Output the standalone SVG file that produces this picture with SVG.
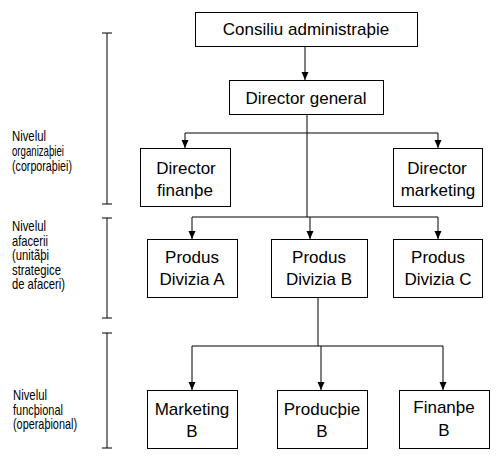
<svg xmlns="http://www.w3.org/2000/svg" width="500" height="463" viewBox="0 0 500 463">
<style>
.box{fill:#fff;stroke:#000;stroke-width:1}
.t{font-family:"Liberation Sans",Arial,sans-serif;font-size:17px;fill:#000;text-anchor:middle}
.l{font-family:"Liberation Sans",Arial,sans-serif;font-size:14.5px;fill:#000}
.c{fill:none;stroke:#000;stroke-width:1}
</style>
<defs>
<marker id="ah" viewBox="0 0 8 8" refX="8" refY="4" markerWidth="8" markerHeight="8" markerUnits="userSpaceOnUse" orient="auto">
<path d="M0,0.5 L8,4 L0,7.5 z" fill="#000"/>
</marker>
</defs>
<rect width="500" height="463" fill="#fff"/>
<g id="axis" class="c">
<path d="M107,33 V204 M102,33 H112 M102,204 H112"/>
<path d="M107,218 V318 M102,218 H112 M102,318 H112"/>
<path d="M107,333 V448 M102,333 H112 M102,448 H112"/>
</g>
<g id="levels">
<text class="l" x="12" y="141" textLength="34" lengthAdjust="spacingAndGlyphs">Nivelul</text>
<text class="l" x="12" y="156" textLength="52" lengthAdjust="spacingAndGlyphs">organizaþiei</text>
<text class="l" x="12" y="170.5" textLength="60" lengthAdjust="spacingAndGlyphs">(corporaþiei)</text>
<text class="l" x="12" y="231" textLength="34" lengthAdjust="spacingAndGlyphs">Nivelul</text>
<text class="l" x="12" y="245.5" textLength="36" lengthAdjust="spacingAndGlyphs">afacerii</text>
<text class="l" x="12" y="260" textLength="37" lengthAdjust="spacingAndGlyphs">(unitãþi</text>
<text class="l" x="12" y="274.5" textLength="49" lengthAdjust="spacingAndGlyphs">strategice</text>
<text class="l" x="12" y="289" textLength="53" lengthAdjust="spacingAndGlyphs">de afaceri)</text>
<text class="l" x="13" y="399.5" textLength="34" lengthAdjust="spacingAndGlyphs">Nivelul</text>
<text class="l" x="13" y="414.5" textLength="50" lengthAdjust="spacingAndGlyphs">funcþional</text>
<text class="l" x="13" y="429" textLength="64" lengthAdjust="spacingAndGlyphs">(operaþional)</text>
</g>
<g id="connectors" class="c">
<path d="M305,46 V80" marker-end="url(#ah)"/>
<path d="M307,114 V217"/>
<path d="M185,133 H438"/>
<path d="M185,133 V148" marker-end="url(#ah)"/>
<path d="M438,133 V148" marker-end="url(#ah)"/>
<path d="M192,217 H438"/>
<path d="M192,217 V239" marker-end="url(#ah)"/>
<path d="M310,217 V239" marker-end="url(#ah)"/>
<path d="M438,217 V239" marker-end="url(#ah)"/>
<path d="M318,297 V346"/>
<path d="M192,346 H443"/>
<path d="M192,346 V390" marker-end="url(#ah)"/>
<path d="M321,346 V390" marker-end="url(#ah)"/>
<path d="M443,346 V390" marker-end="url(#ah)"/>
</g>
<g id="consiliu">
<rect class="box" x="195.5" y="12.5" width="222" height="34"/>
<text class="t" x="306" y="35">Consiliu administraþie</text>
</g>
<g id="director-general">
<rect class="box" x="229.5" y="80.5" width="154" height="34"/>
<text class="t" x="306" y="103.5">Director general</text>
</g>
<g id="director-finante">
<rect class="box" x="140.5" y="148.5" width="90" height="58"/>
<text class="t" x="186" y="174">Director</text>
<text class="t" x="185" y="196">finanþe</text>
</g>
<g id="director-marketing">
<rect class="box" x="393.5" y="148.5" width="89" height="58"/>
<text class="t" x="437" y="174">Director</text>
<text class="t" x="438" y="196">marketing</text>
</g>
<g id="produs-a">
<rect class="box" x="147.5" y="239.5" width="90" height="58"/>
<text class="t" x="192" y="263">Produs</text>
<text class="t" x="192" y="285">Divizia A</text>
</g>
<g id="produs-b">
<rect class="box" x="271.5" y="239.5" width="96" height="58"/>
<text class="t" x="319" y="263">Produs</text>
<text class="t" x="319" y="285">Divizia B</text>
</g>
<g id="produs-c">
<rect class="box" x="393.5" y="239.5" width="89" height="58"/>
<text class="t" x="438" y="263">Produs</text>
<text class="t" x="438" y="285">Divizia C</text>
</g>
<g id="marketing-b">
<rect class="box" x="147.5" y="390.5" width="90" height="58"/>
<text class="t" x="192" y="415">Marketing</text>
<text class="t" x="192" y="437">B</text>
</g>
<g id="productie-b">
<rect class="box" x="277.5" y="390.5" width="90" height="58"/>
<text class="t" x="322" y="415">Producþie</text>
<text class="t" x="322" y="437">B</text>
</g>
<g id="finante-b">
<rect class="box" x="399.5" y="390.5" width="90" height="58"/>
<text class="t" x="444" y="413">Finanþe</text>
<text class="t" x="444" y="436">B</text>
</g>
</svg>
